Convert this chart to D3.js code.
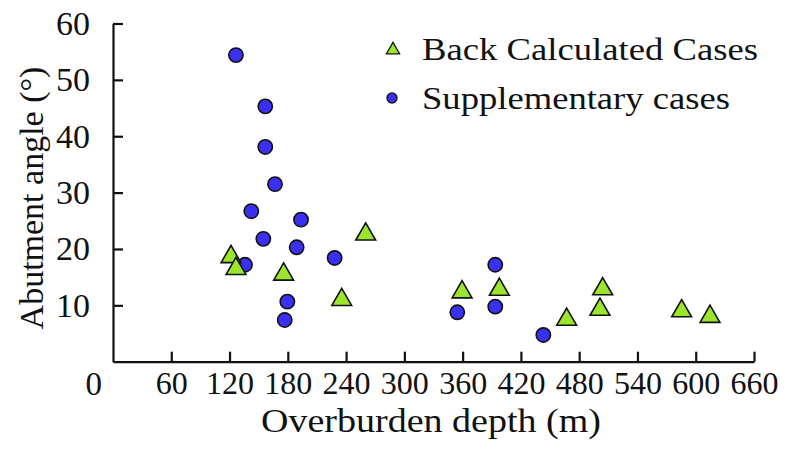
<!DOCTYPE html>
<html>
<head>
<meta charset="utf-8">
<script src="https://cdn.jsdelivr.net/npm/d3@7"></script>
<style>
  body { margin: 0; background: #fff; }
  svg text { font-family: "Liberation Serif", "DejaVu Serif", serif; fill: #111; }
</style>
</head>
<body>
<div id="chart"></div>
<script>
// canvas
let width = 789;
let height = 449;
let margin = ({top: 23.5, right: 35, bottom: 87.3, left: 113});

// data: overburden depth (m) and abutment angle (deg)
let backDepth = [121.5, 126.6, 175.7, 235.5, 260.2, 359.4, 397.8, 467.1, 504.2, 501.4, 585.5, 614.7];
let backAngle = [19.1, 17.0, 16.0, 11.5, 23.1, 12.85, 13.3, 8.0, 13.4, 9.76, 9.5, 8.5];

let suppDepth = [126.6, 156.8, 156.8, 166.8, 142.4, 193.6, 154.8, 189.1, 228.2, 135.9, 179.5, 176.8, 354.5, 393.6, 393.6, 443.1];
let suppAngle = [54.4, 45.3, 38.1, 31.5, 26.7, 25.2, 21.8, 20.3, 18.4, 17.2, 10.65, 7.4, 8.77, 17.2, 9.77, 4.74];

let xTicks = [60, 120, 180, 240, 300, 360, 420, 480, 540, 600, 660];
let yTicks = [10, 20, 30, 40, 50, 60];

let legendLabels = ["Back Calculated Cases", "Supplementary cases"];

let svg = d3.select("#chart")
    .append("svg")
    .attr("width", width)
    .attr("height", height);

let xScale = d3.scaleLinear().domain([0, 660]).range([margin.left, width - margin.right]);
let yScale = d3.scaleLinear().domain([0, 60]).range([height - margin.bottom, margin.top]);

// x axis, ticks pointing inward
let xAxis = d3.axisBottom(xScale)
    .tickValues(xTicks)
    .tickSizeInner(-10)
    .tickSizeOuter(0)
    .tickPadding(10);

let gx = svg.append("g")
    .attr("transform", "translate(0," + (height - margin.bottom) + ")")
    .call(xAxis);

gx.select(".domain").attr("stroke", "#111").attr("stroke-width", 2.2);
gx.selectAll(".tick line").attr("stroke", "#111").attr("stroke-width", 2.2);
gx.selectAll(".tick text")
    .attr("font-size", 32)
    .attr("fill", "#111");

// shared zero label at the corner
svg.append("text")
    .attr("x", margin.left - 11)
    .attr("y", height - margin.bottom + 33)
    .attr("text-anchor", "end")
    .attr("font-size", 33)
    .text("0");

// y axis
let yAxis = d3.axisLeft(yScale)
    .tickValues(yTicks)
    .tickSizeInner(-10)
    .tickSizeOuter(0)
    .tickPadding(23);

let gy = svg.append("g")
    .attr("transform", "translate(" + margin.left + ",0)")
    .call(yAxis);

gy.select(".domain").attr("stroke", "#111").attr("stroke-width", 2.2);
gy.selectAll(".tick line").attr("stroke", "#111").attr("stroke-width", 2.2);
gy.selectAll(".tick text")
    .attr("font-size", 34)
    .attr("fill", "#111");

// axis titles
svg.append("text")
    .attr("x", 431)
    .attr("y", 432)
    .attr("text-anchor", "middle")
    .attr("font-size", 34)
    .attr("textLength", 340)
    .attr("lengthAdjust", "spacingAndGlyphs")
    .text("Overburden depth (m)");

svg.append("text")
    .attr("transform", "translate(43,198) rotate(-90)")
    .attr("text-anchor", "middle")
    .attr("font-size", 34)
    .text("Abutment angle (\u00B0)");

/*
------------------------------
points
------------------------------
*/
let triSize = 170;
let triangle = d3.symbol().type(d3.symbolTriangle).size(triSize);
let circle = d3.symbol().type(d3.symbolCircle).size(160);
// d3 triangles sit on their centroid; shift so the box centre lands on the value
let triShift = Math.sqrt(triSize / (3 * Math.sqrt(3))) / 2;

svg.selectAll(".supp")
    .data(d3.range(suppDepth.length))
    .enter()
    .append("path")
    .attr("class", "supp")
    .attr("d", circle)
    .attr("transform", function(i) { return "translate(" + xScale(suppDepth[i]) + "," + yScale(suppAngle[i]) + ")"; })
    .attr("fill", "#3a30f2")
    .attr("stroke", "#111")
    .attr("stroke-width", 1.6);

svg.selectAll(".back")
    .data(d3.range(backDepth.length))
    .enter()
    .append("path")
    .attr("class", "back")
    .attr("d", triangle)
    .attr("transform", function(i) { return "translate(" + xScale(backDepth[i]) + "," + (yScale(backAngle[i]) + triShift) + ")"; })
    .attr("fill", "#9be62d")
    .attr("stroke", "#111")
    .attr("stroke-width", 1.6);

// legend
let legend = svg.append("g").attr("transform", "translate(392,0)");

legend.append("path")
    .attr("d", d3.symbol().type(d3.symbolTriangle).size(75))
    .attr("transform", "translate(1,50)")
    .attr("fill", "#9be62d")
    .attr("stroke", "#111")
    .attr("stroke-width", 1.3);

legend.append("path")
    .attr("d", d3.symbol().type(d3.symbolCircle).size(80))
    .attr("transform", "translate(0,98)")
    .attr("fill", "#3a30f2")
    .attr("stroke", "#111")
    .attr("stroke-width", 1.3);

let legendWidths = [336, 308];

legend.selectAll(".leg")
    .data(legendLabels)
    .enter()
    .append("text")
    .attr("class", "leg")
    .attr("x", 30)
    .attr("y", function(d, i) { return 60 + i * 49; })
    .attr("font-size", 31)
    .attr("textLength", function(d, i) { return legendWidths[i]; })
    .attr("lengthAdjust", "spacingAndGlyphs")
    .text(function(d) { return d; });
</script>
</body>
</html>
